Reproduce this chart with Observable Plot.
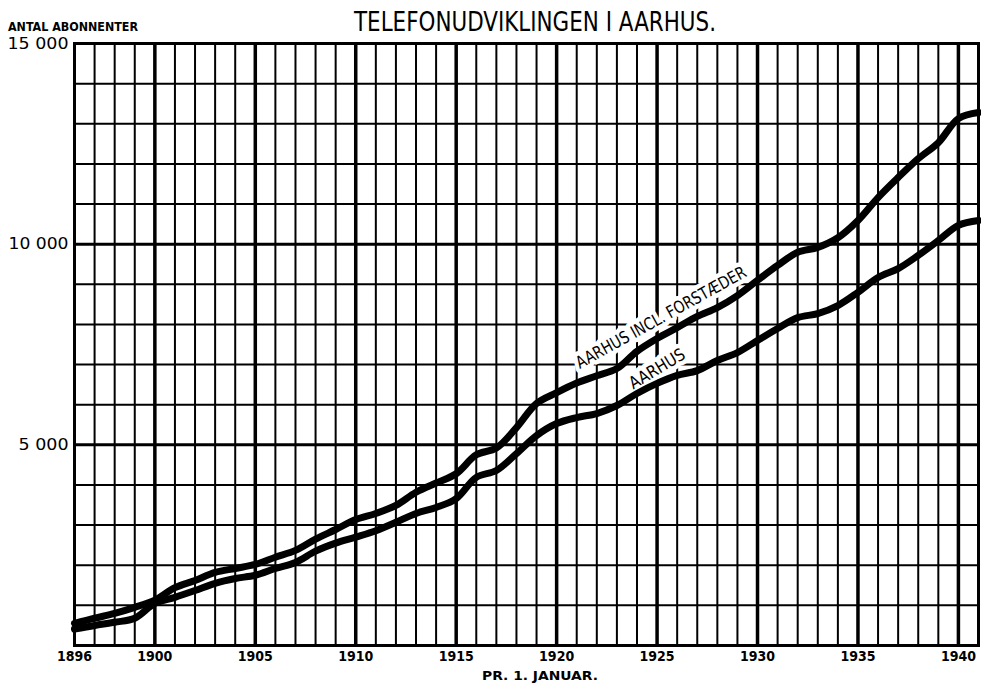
<!DOCTYPE html>
<html><head><meta charset="utf-8">
<script src="https://cdn.jsdelivr.net/npm/d3@7"></script>
<script src="https://cdn.jsdelivr.net/npm/@observablehq/plot@0.6"></script>
<style>
html,body{margin:0;padding:0;background:#fff;}
#wrap{width:981px;height:684px;position:relative;overflow:hidden;background:#fff;}
svg{display:block;}
</style></head><body><div id="wrap"></div>
<script>
const FONT = '"Liberation Sans Narrow","DejaVu Sans Condensed","Roboto Condensed","DejaVu Sans",sans-serif';

const years = [1896,1897,1898,1899,1900,1901,1902,1903,1904,1905,1906,1907,1908,1909,1910,1911,1912,1913,1914,1915,1916,1917,1918,1919,1920,1921,1922,1923,1924,1925,1926,1927,1928,1929,1930,1931,1932,1933,1934,1935,1936,1937,1938,1939,1940,1941];
const aarhusInclForstaeder = [550,680,800,950,1130,1440,1620,1820,1920,2020,2200,2370,2650,2890,3140,3290,3490,3820,4050,4280,4750,4920,5430,6030,6300,6540,6720,6900,7330,7650,7920,8200,8420,8720,9100,9470,9800,9920,10160,10590,11160,11660,12130,12530,13130,13280];
const aarhus = [410,500,580,680,1050,1200,1370,1550,1670,1750,1920,2070,2350,2550,2700,2860,3070,3290,3440,3660,4190,4360,4780,5230,5530,5680,5780,5980,6280,6530,6730,6850,7100,7300,7600,7900,8170,8270,8470,8800,9170,9390,9720,10090,10470,10590];
const seriesNames = ["AARHUS INCL. FORSTÆDER", "AARHUS"];
const xTickYears = [1896,1900,1905,1910,1915,1920,1925,1930,1935,1940];
const yTickValues = [5000,10000,15000];
const yTickLabels = ["5 000","10 000","15 000"];
const titleText = "TELEFONUDVIKLINGEN I AARHUS.";
const yAxisTitle = "ANTAL ABONNENTER";
const xAxisTitle = "PR. 1. JANUAR.";
const labelYear = 1925;

const rows = years.flatMap((yr, i) => [
  {year: yr, value: aarhusInclForstaeder[i], series: seriesNames[0]},
  {year: yr, value: aarhus[i], series: seriesNames[1]}
]);
const gridYears = d3.range(1896, 1942);
const gridValues = d3.range(1000, 15000, 1000);

const wrap = document.getElementById("wrap");

// header
const header = d3.create("svg").attr("width", 981).attr("height", 36);
header.append("text").attr("x", 535).attr("y", 31).attr("text-anchor", "middle")
  .attr("font-family", FONT).attr("font-size", 27).attr("fill", "#000")
  .attr("textLength", 362).attr("lengthAdjust", "spacingAndGlyphs").text(titleText);
header.append("text").attr("x", 8).attr("y", 31)
  .attr("font-family", FONT).attr("font-size", 12).attr("font-weight", "bold").attr("fill", "#000")
  .attr("textLength", 130).attr("lengthAdjust", "spacingAndGlyphs").text(yAxisTitle);
wrap.appendChild(header.node());

const upperLabelRow = rows.filter(d => d.year === labelYear && d.series === seriesNames[0]);
const lowerLabelRow = rows.filter(d => d.year === labelYear && d.series === seriesNames[1]);

const chart = Plot.plot({
  width: 981, height: 632,
  marginTop: 7, marginRight: 3, marginBottom: 23, marginLeft: 74,
  x: {domain: [1896, 1941], axis: null},
  y: {domain: [0, 15000], axis: null},
  style: {background: "white", fontFamily: FONT, overflow: "visible"},
  marks: [
    Plot.ruleY(gridValues.filter(v => v % 5000 !== 0), {y: d => d, stroke: "#000", strokeWidth: 2}),
    Plot.ruleY(gridValues.filter(v => v % 5000 === 0), {y: d => d, stroke: "#000", strokeWidth: 3}),
    Plot.ruleX(gridYears.filter(v => v % 5 !== 0), {x: d => d, stroke: "#000", strokeWidth: 2}),
    Plot.ruleX(gridYears.filter(v => v % 5 === 0), {x: d => d, stroke: "#000", strokeWidth: 3.5}),
    Plot.frame({stroke: "#000", strokeWidth: 3}),
    Plot.text(upperLabelRow, {x: d => d.year + 0.2, y: d => d.value + 520, text: "series", rotate: -29,
      fontSize: 17, fontWeight: 500, fill: "#000", stroke: "white", strokeWidth: 9}),
    Plot.text(lowerLabelRow, {x: "year", y: d => d.value + 360, text: "series", rotate: -31,
      fontSize: 17, fontWeight: 500, fill: "#000", stroke: "white", strokeWidth: 9}),
    Plot.line(rows, {x: "year", y: "value", z: "series", stroke: "#000", strokeWidth: 7,
      curve: "catmull-rom", strokeLinejoin: "round"}),
    Plot.text(xTickYears, {x: d => d, frameAnchor: "bottom", dy: 15, text: d => String(d),
      fontSize: 14, fontWeight: "bold", fill: "#000"}),
    Plot.text(yTickValues, {y: d => d, frameAnchor: "left", dx: -6, textAnchor: "end",
      text: (d, i) => yTickLabels[i], fontSize: 16, fill: "#000"})
  ]
});
wrap.appendChild(chart);

const fitWidths = {
  "AARHUS INCL. FORSTÆDER": 192,
  "AARHUS": 62,
  "5 000": 50, "10 000": 60, "15 000": 61
};
chart.querySelectorAll("text").forEach(t => {
  const w = fitWidths[t.textContent.trim()];
  if (w) { t.setAttribute("textLength", w); t.setAttribute("lengthAdjust", "spacingAndGlyphs"); }
});

// footer
const footer = d3.create("svg").attr("width", 981).attr("height", 16);
footer.append("text").attr("x", 482).attr("y", 12)
  .attr("font-family", FONT).attr("font-size", 12).attr("font-weight", "bold").attr("fill", "#000")
  .attr("textLength", 116).attr("lengthAdjust", "spacingAndGlyphs").text(xAxisTitle);
wrap.appendChild(footer.node());
</script></body></html>
